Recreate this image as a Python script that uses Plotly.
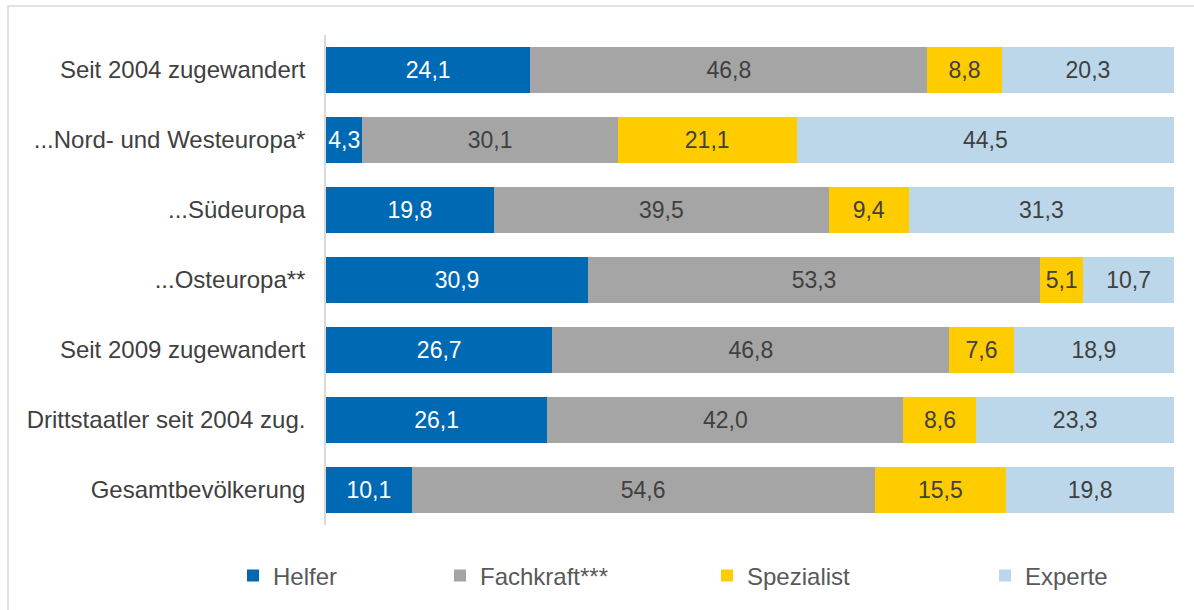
import plotly.graph_objects as go

categories = [
    "Seit 2004 zugewandert",
    "...Nord- und Westeuropa*",
    "...Südeuropa",
    "...Osteuropa**",
    "Seit 2009 zugewandert",
    "Drittstaatler seit 2004 zug.",
    "Gesamtbevölkerung",
]
helfer = [24.1, 4.3, 19.8, 30.9, 26.7, 26.1, 10.1]
fachkraft = [46.8, 30.1, 39.5, 53.3, 46.8, 42.0, 54.6]
spezialist = [8.8, 21.1, 9.4, 5.1, 7.6, 8.6, 15.5]
experte = [20.3, 44.5, 31.3, 10.7, 18.9, 23.3, 19.8]

series_names = ["Helfer", "Fachkraft***", "Spezialist", "Experte"]
series_values = [helfer, fachkraft, spezialist, experte]
series_colors = ["#0069B4", "#A5A5A5", "#FFCC00", "#BDD7EA"]
text_colors = ["white", "#404040", "#404040", "#404040"]
legend_marker_px = [248, 455, 722, 1000]

FONT = "Liberation Sans, Arial, sans-serif"
L, R, T, B = 326, 20, 35, 83
W, H = 1194, 610
pw, ph = W - L - R, H - T - B


def px_x(x):
    return (x - L) / pw


def px_y(y):
    return (H - B - y) / ph


fig = go.Figure()
legends = {}
for i, (name, vals, color, tcolor) in enumerate(
        zip(series_names, series_values, series_colors, text_colors)):
    lname = "legend" if i == 0 else f"legend{i + 1}"
    fig.add_trace(go.Bar(
        y=categories, x=vals, name=name, orientation="h",
        marker=dict(color=color, line=dict(width=0)),
        texttemplate="%{x:.1f}", textposition="inside",
        insidetextanchor="middle", textangle=0,
        textfont=dict(family=FONT, size=23, color=tcolor),
        hoverinfo="skip", legend=lname,
    ))
    legends[lname] = dict(
        orientation="h", x=px_x(legend_marker_px[i] - 15), xanchor="left",
        y=px_y(578), yanchor="middle", itemwidth=30,
        bgcolor="rgba(0,0,0,0)",
        font=dict(family=FONT, size=24, color="#595959"),
    )

fig.update_layout(
    width=W, height=H,
    barmode="stack", bargap=0.33,
    separators=",.",
    margin=dict(l=L, r=R, t=T, b=B),
    paper_bgcolor="white", plot_bgcolor="white",
    font=dict(family=FONT, size=24, color="#404040"),
    uniformtext=dict(minsize=23, mode="show"),
    xaxis=dict(range=[0, 100], visible=False, fixedrange=True),
    yaxis=dict(autorange="reversed", showline=True, linecolor="#D9D9D9",
               linewidth=1.5, ticks="", ticklabelstandoff=14,
               tickfont=dict(family=FONT, size=24, color="#404040")),
    showlegend=True,
    shapes=[dict(type="rect", xref="paper", yref="paper",
                 x0=px_x(8), x1=px_x(1205), y0=px_y(6), y1=px_y(620),
                 line=dict(color="#D9D9D9", width=1.5), layer="below")],
    **legends,
)

fig.write_html(
    "out.html",
    config={"displayModeBar": False},
    post_script="document.body.style.margin='0';"
                "document.body.style.overflow='hidden';",
)
